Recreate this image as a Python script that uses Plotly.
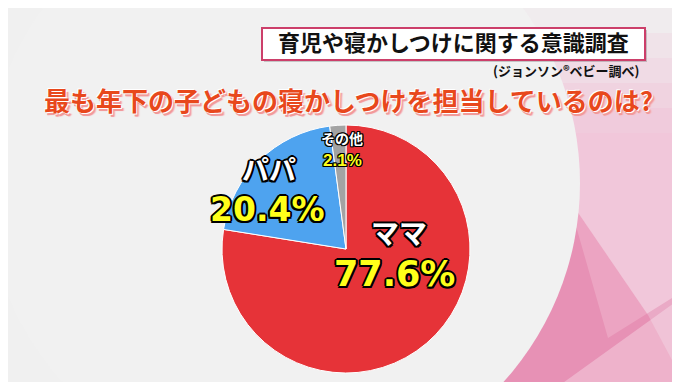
import plotly.graph_objects as go

# ---- data ----
labels = ["ママ", "パパ", "その他"]
values = [77.6, 20.4, 2.1]
title_box_text = "育児や寝かしつけに関する意識調査"
source_text = "(ジョンソン®ベビー調べ)"
question_text = "最も年下の子どもの寝かしつけを担当しているのは?"

# ---- style ----
W, H = 680, 382
slice_colors = ["#e63338", "#4ea3ef", "#a3a3a3"]
FONT = "Noto Sans CJK JP"


def px(x):
    return x / W


def py(y):
    return 1 - y / H


OUTLINE = ("-2px 0 0 #000, 2px 0 0 #000, 0 -2px 0 #000, 0 2px 0 #000, "
           "-1.5px -1.5px 0 #000, 1.5px -1.5px 0 #000, -1.5px 1.5px 0 #000, 1.5px 1.5px 0 #000")
OUTLINE_S = ("-1px 0 0 #000, 1px 0 0 #000, 0 -1px 0 #000, 0 1px 0 #000, "
             "-1px -1px 0 #000, 1px -1px 0 #000, -1px 1px 0 #000, 1px 1px 0 #000")

fig = go.Figure()

cx, cy, r = 338, 241, 124
fig.add_trace(go.Pie(
    labels=labels,
    values=values,
    sort=False,
    direction="clockwise",
    rotation=0,
    marker=dict(colors=slice_colors, line=dict(color="#ffffff", width=1)),
    textinfo="none",
    hoverinfo="none",
    showlegend=False,
    domain=dict(x=[px(cx - r), px(cx + r)], y=[py(cy + r), py(cy - r)]),
))

shapes = []
# pink decorative background on the right
shapes.append(dict(type="rect", xref="paper", yref="paper", x0=px(380), x1=1, y0=0, y1=1,
                   fillcolor="#eaaac6", line_width=0, layer="below"))
# lighter top-right area
shapes.append(dict(type="path", xref="paper", yref="paper",
                   path=f"M {px(470)},{py(0)} L {px(680)},{py(0)} L {px(680)},{py(280)} L {px(600)},{py(330)} L {px(560)},{py(190)} Z",
                   fillcolor="rgba(255,255,255,0.35)", line_width=0, layer="below"))
# darker band
shapes.append(dict(type="path", xref="paper", yref="paper",
                   path=f"M {px(560)},{py(190)} L {px(640)},{py(307)} L {px(680)},{py(382)} L {px(440)},{py(382)} Z",
                   fillcolor="rgba(225,100,150,0.35)", line_width=0, layer="below"))
# lighter lower-right triangle
shapes.append(dict(type="path", xref="paper", yref="paper",
                   path=f"M {px(680)},{py(285)} L {px(680)},{py(382)} L {px(545)},{py(382)} Z",
                   fillcolor="rgba(255,255,255,0.3)", line_width=0, layer="below"))
# fade pink towards the top
for y0, y1, op in [(0, 25, 0.9), (25, 50, 0.7), (50, 75, 0.5), (75, 100, 0.3), (100, 125, 0.12)]:
    shapes.append(dict(type="rect", xref="paper", yref="paper", x0=px(380), x1=1,
                       y0=py(y1), y1=py(y0), fillcolor=f"rgba(240,240,240,{op})",
                       line_width=0, layer="below"))
# big light-grey circle
R = 297
ccx, ccy = 275, 175
shapes.append(dict(type="circle", xref="paper", yref="paper",
                   x0=px(ccx - R), x1=px(ccx + R), y0=py(ccy + R), y1=py(ccy - R),
                   fillcolor="#f1f1f1", line_width=0, layer="below"))
# title box
shapes.append(dict(type="rect", xref="paper", yref="paper",
                   x0=px(256), x1=px(639), y0=py(54), y1=py(22),
                   fillcolor="rgba(0,0,0,0.18)", line_width=0, layer="below"))
shapes.append(dict(type="rect", xref="paper", yref="paper",
                   x0=px(254), x1=px(637), y0=py(52), y1=py(20),
                   fillcolor="#ffffff", line=dict(color="#cc3f6a", width=2), layer="below"))
# bottom border
shapes.append(dict(type="rect", xref="paper", yref="paper", x0=0, x1=1, y0=0, y1=py(380),
                   fillcolor="#6b6b6b", line_width=0, layer="above"))
shapes.append(dict(type="rect", xref="paper", yref="paper", x0=px(677), x1=px(678), y0=0, y1=1,
                   fillcolor="#d0d0d0", line_width=0, layer="below"))

annotations = [
    dict(text=title_box_text, x=px(445), y=py(33), xanchor="center", yanchor="middle",
         font=dict(family=FONT, size=22, color="#111111", weight="bold")),
    dict(text=source_text, x=px(634), y=py(63), xanchor="right", yanchor="middle",
         font=dict(family=FONT, size=13, color="#111111", weight="bold")),
    dict(text=question_text, x=px(340), y=py(91), xanchor="center", yanchor="middle",
         font=dict(family=FONT, size=26, color="#e8481c", weight="bold",
                   shadow="1px 1px 0 #ffffff, -1px -1px 0 #ffffff, 2px 3px 0 #f29a9a, 3px 3px 1px #f6b5b5")),
]

# (label x, label y, label size, value x, value y, value size, value font)
label_pos = [
    (391, 224, 28, 386, 266, 35, "DejaVu Sans"),
    (261, 160, 27, 259, 201, 33, "DejaVu Sans"),
    (334, 130, 14, 334, 152, 17, "Liberation Sans"),
]
for lab, val, (lx, ly, ls, vx, vy, vs, vf) in zip(labels, values, label_pos):
    annotations.append(dict(text=lab, x=px(lx), y=py(ly), xanchor="center", yanchor="middle",
                            font=dict(family=FONT, size=ls, color="#ffffff", weight="bold",
                                      shadow=OUTLINE if ls > 20 else OUTLINE_S)))
    annotations.append(dict(text=f"{val}%", x=px(vx), y=py(vy), xanchor="center", yanchor="middle",
                            font=dict(family=vf, size=vs, color="#ffff1a", weight="bold",
                                      shadow=OUTLINE if vs > 20 else OUTLINE_S)))

for a in annotations:
    a.update(xref="paper", yref="paper", showarrow=False)

fig.update_layout(
    width=W, height=H, autosize=False,
    margin=dict(l=0, r=0, t=0, b=0),
    paper_bgcolor="#f0f0f0",
    plot_bgcolor="#f0f0f0",
    shapes=shapes,
    annotations=annotations,
    showlegend=False,
)

fig.write_html("out.html")
